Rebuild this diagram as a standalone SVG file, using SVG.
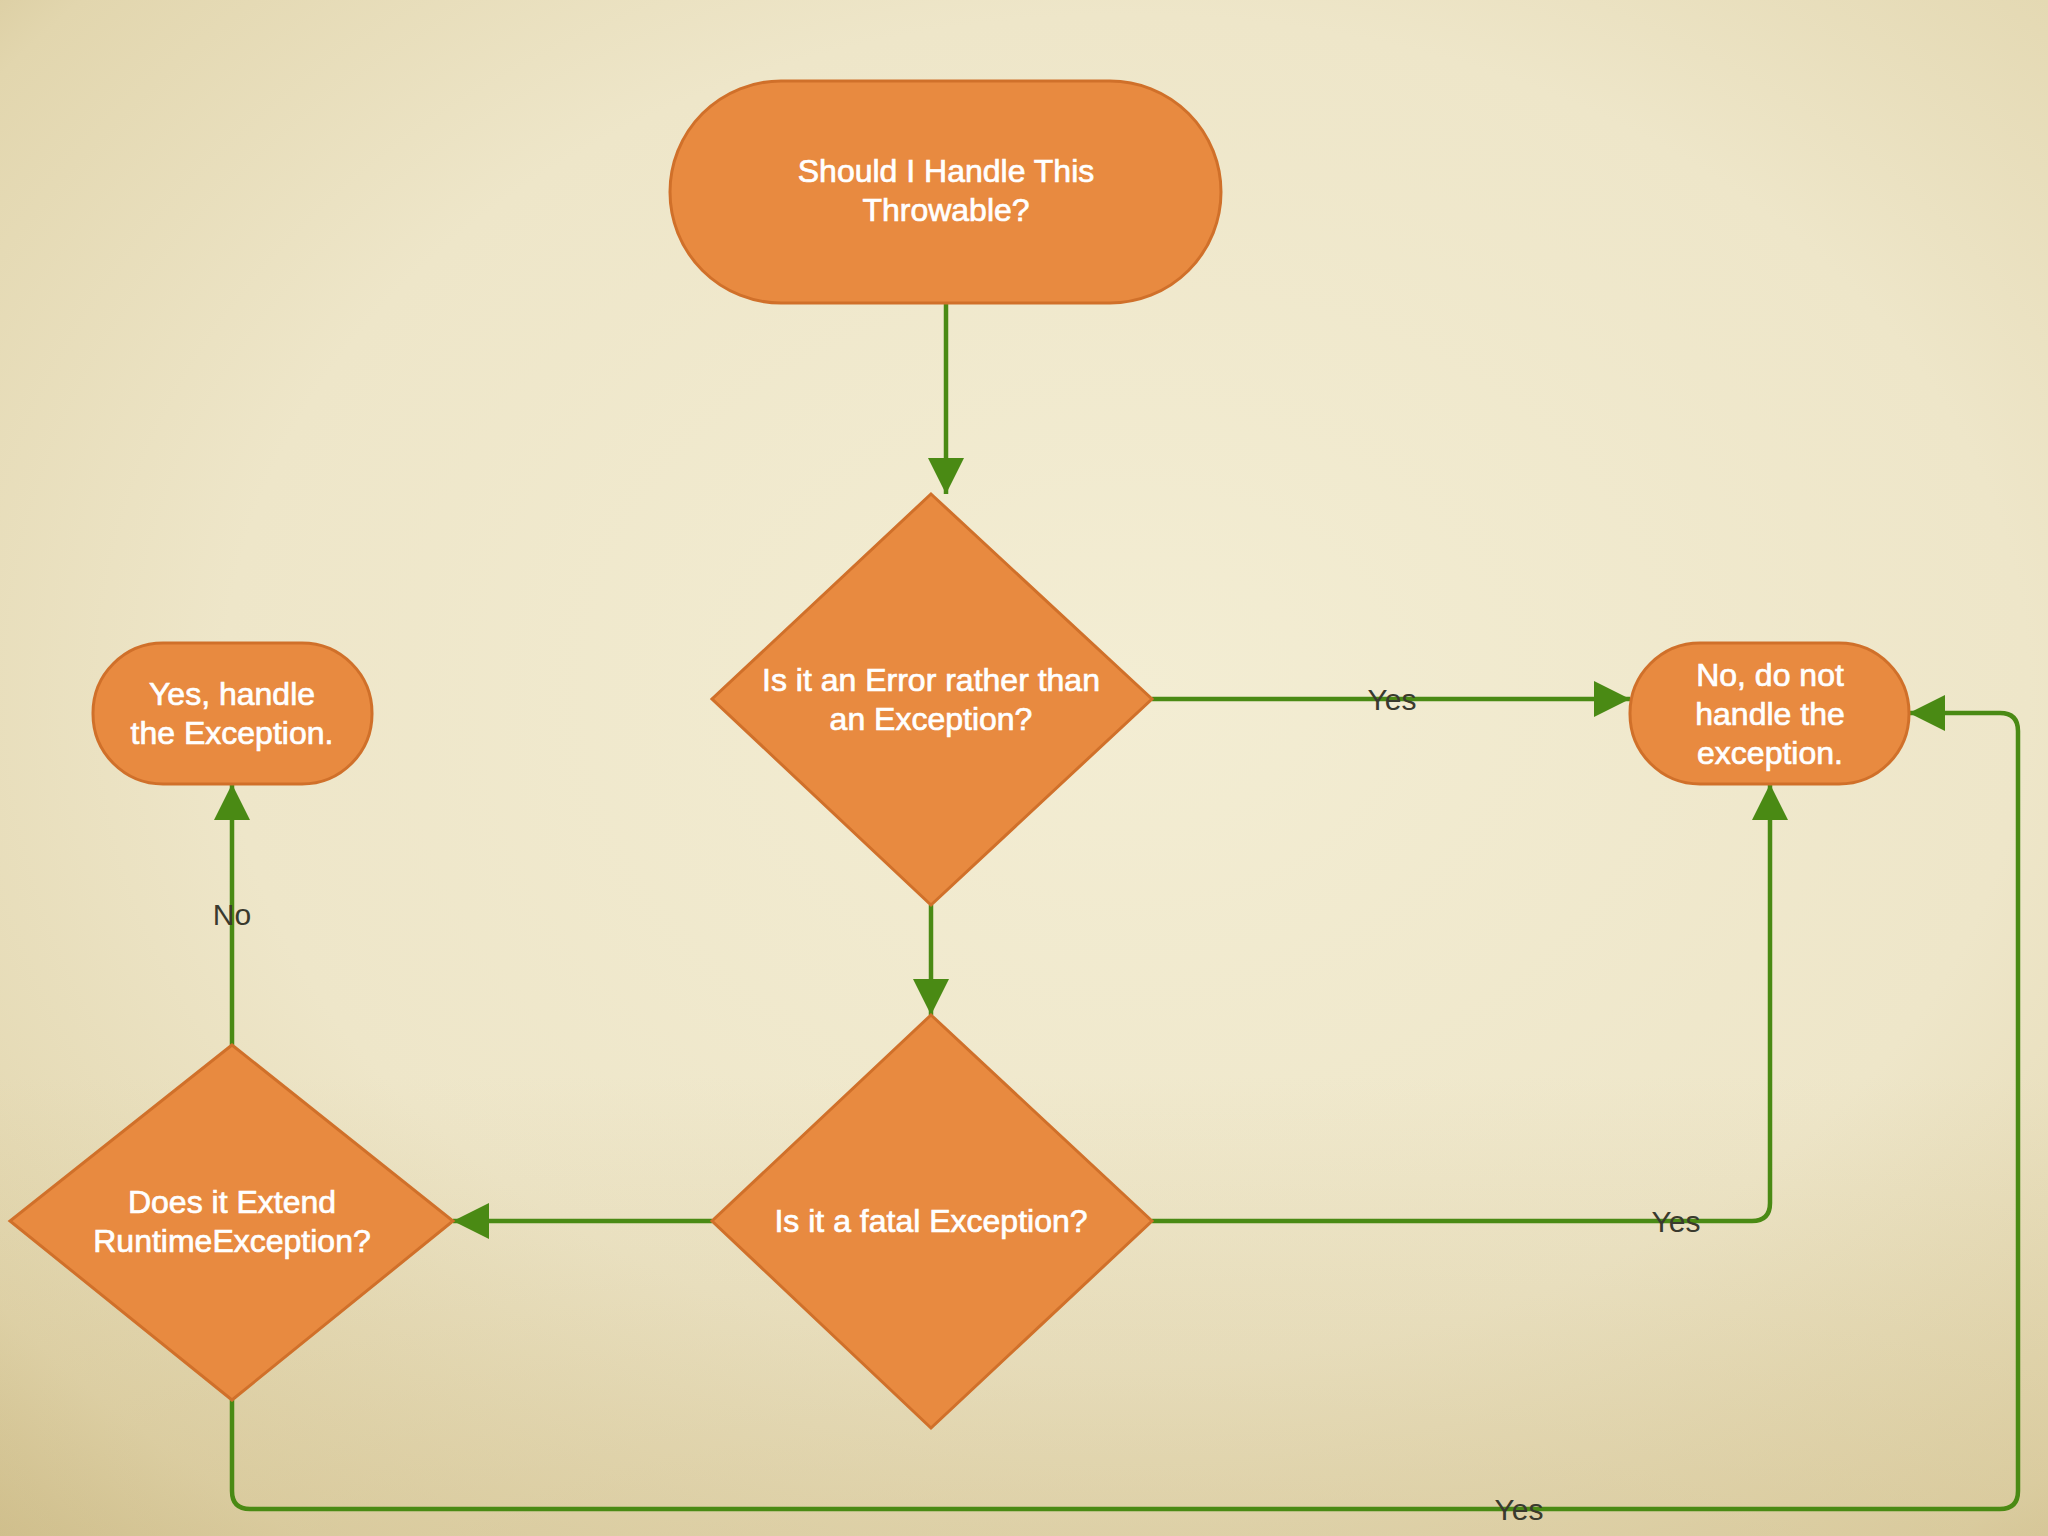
<svg xmlns="http://www.w3.org/2000/svg" width="2048" height="1536" viewBox="0 0 2048 1536">
<defs>
<radialGradient id="bg" cx="0.55" cy="0.45" r="0.8">
<stop offset="0" stop-color="#F3EDD3"/>
<stop offset="0.55" stop-color="#EEE6C9"/>
<stop offset="0.85" stop-color="#E2D6AE"/>
<stop offset="1" stop-color="#D0C08E"/>
</radialGradient>
<linearGradient id="bot" x1="0" y1="0" x2="0" y2="1">
<stop offset="0.7" stop-color="#C9B57E" stop-opacity="0"/>
<stop offset="1" stop-color="#C9B57E" stop-opacity="0.35"/>
</linearGradient>
<marker id="ah" markerUnits="userSpaceOnUse" markerWidth="36" markerHeight="36" viewBox="0 0 36 36" refX="36" refY="18" orient="auto">
<path d="M0,0 L36,18 L0,36 z" fill="#4A8A14"/>
</marker>
<style>
.node{fill:#E88A40;stroke:#D0702A;stroke-width:3}
.nt{font-family:"Liberation Sans",Arial,sans-serif;font-size:32px;fill:#FFFFFF;stroke:#FFFFFF;stroke-width:0.7;text-anchor:middle}
.conn{fill:none;stroke:#4A8A14;stroke-width:4.5}
.lbl{font-family:"Liberation Sans",Arial,sans-serif;font-size:30px;fill:#3A3A2E;text-anchor:middle}
</style>
</defs>
<rect x="0" y="0" width="2048" height="1536" fill="url(#bg)"/>
<rect x="0" y="0" width="2048" height="1536" fill="url(#bot)"/>

<g id="connectors">
<path class="conn" d="M946,303 V494" marker-end="url(#ah)"/>
<path class="conn" d="M931,905 V1015" marker-end="url(#ah)"/>
<path class="conn" d="M1152,699 H1630" marker-end="url(#ah)"/>
<path class="conn" d="M712,1221 H453" marker-end="url(#ah)"/>
<path class="conn" d="M1152,1221 H1752 Q1770,1221 1770,1203 V784" marker-end="url(#ah)"/>
<path class="conn" d="M232,1045 V784" marker-end="url(#ah)"/>
<path class="conn" d="M232,1400 V1491 Q232,1509 250,1509 H2000 Q2018,1509 2018,1491 V731 Q2018,713 2000,713 H1909" marker-end="url(#ah)"/>
<text class="lbl" x="1392" y="710">Yes</text>
<text class="lbl" x="232" y="925">No</text>
<text class="lbl" x="1676" y="1232">Yes</text>
<text class="lbl" x="1519" y="1520">Yes</text>
</g>

<g id="start">
<rect class="node" x="670" y="81" width="551" height="222" rx="111" ry="111"/>
<text class="nt" x="946" y="182">Should I Handle This</text>
<text class="nt" x="946" y="221">Throwable?</text>
</g>

<g id="isError">
<polygon class="node" points="931,494 1152,699 931,905 712,699"/>
<text class="nt" x="931" y="691">Is it an Error rather than</text>
<text class="nt" x="931" y="730">an Exception?</text>
</g>

<g id="isFatal">
<polygon class="node" points="931,1015 1152,1221 931,1428 712,1221"/>
<text class="nt" x="931" y="1232">Is it a fatal Exception?</text>
</g>

<g id="extendsRuntime">
<polygon class="node" points="232,1045 453,1221 232,1400 10,1221"/>
<text class="nt" x="232" y="1213">Does it Extend</text>
<text class="nt" x="232" y="1252">RuntimeException?</text>
</g>

<g id="yesHandle">
<rect class="node" x="93" y="643" width="279" height="141" rx="70" ry="70"/>
<text class="nt" x="232" y="705">Yes, handle</text>
<text class="nt" x="232" y="744">the Exception.</text>
</g>

<g id="noHandle">
<rect class="node" x="1630" y="643" width="279" height="141" rx="70" ry="70"/>
<text class="nt" x="1770" y="686">No, do not</text>
<text class="nt" x="1770" y="725">handle the</text>
<text class="nt" x="1770" y="764">exception.</text>
</g>
</svg>
